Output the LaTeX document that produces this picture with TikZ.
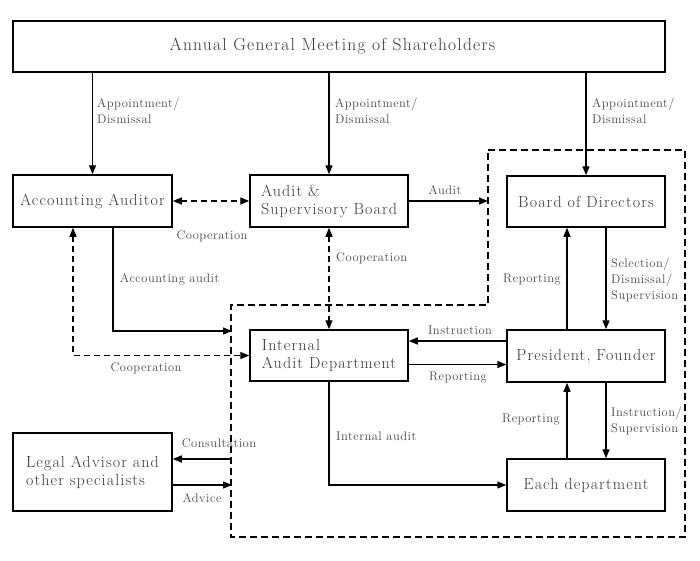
\documentclass[tikz,border=0pt]{standalone}
\usepackage{fontspec}
\usetikzlibrary{arrows.meta}
\definecolor{txtc}{RGB}{55,55,55}
\definecolor{lblc}{RGB}{70,70,70}
\newfontfamily\boxfamily{Latin Modern Roman}[LetterSpace=7]
\newfontfamily\lblfamily{Latin Modern Roman}[LetterSpace=4]
\newcommand\boxfnt{\boxfamily\fontsize{16}{18}\selectfont}
\newcommand\agmfnt{\boxfamily\fontsize{17.5}{20}\selectfont}
\newcommand\lblfnt{\lblfamily\fontsize{12.5}{16}\selectfont}
\tikzset{
  orgbox/.style={draw, line width=1.5pt, minimum width=158pt, minimum height=52pt, inner sep=0pt, font=\boxfnt, text=txtc, align=left},
  arr/.style={-{Triangle[length=9pt,width=7pt]}, line width=1.3pt},
  darr/.style={{Triangle[length=9pt,width=7pt]}-{Triangle[length=9pt,width=7pt]}, line width=1.3pt, dash pattern=on 6pt off 4pt},
  lbl/.style={font=\lblfnt, text=lblc, inner sep=0pt, align=left},
  region/.style={line width=1.2pt, dash pattern=on 7pt off 4pt}
}
\begin{document}
\begin{tikzpicture}[x=1pt,y=-1pt]
\useasboundingbox (0,0) rectangle (700,560);
% region
\draw[region] (488,150) -- (685,150) -- (685,537) -- (231,537) -- (231,305) -- (488,305) -- cycle;
% nodes
\node[orgbox, minimum width=652pt, minimum height=51pt, font=\agmfnt] (agm) at (339,46.5) {\hspace*{-13pt}Annual General Meeting of Shareholders};
\node[orgbox, minimum width=159pt] (aa) at (92.5,201) {Accounting Auditor};
\node[orgbox] (asb) at (329,201) {Audit \&\\Supervisory Board};
\node[orgbox, minimum height=51pt] (board) at (586,201.5) {Board of Directors};
\node[orgbox, minimum height=51pt] (iad) at (329,355.5) {Internal\\Audit Department};
\node[orgbox] (pres) at (586,356) {President, Founder};
\node[orgbox, minimum width=159pt, minimum height=78pt] (legal) at (92.5,472) {Legal Advisor and\\other specialists};
\node[orgbox] (each) at (586,485) {Each department};
% coordinates on region boundary
\coordinate (cAudit) at (488,201);
\coordinate (cAcc) at (232,331);
\coordinate (cCons) at (232,459);
\coordinate (cAdv) at (232,485);
% connectors
\draw[arr] (aa.north |- agm.south) -- (aa.north);
\draw[arr] (asb.north |- agm.south) -- (asb.north);
\draw[arr] (board.north |- agm.south) -- (board.north);
\draw[darr] (aa.east) -- (asb.west);
\draw[arr] (asb.east) -- (cAudit);
\draw[darr] (asb.south) -- (iad.north);
\draw[arr] ([xshift=20.5pt]aa.south) |- (cAcc);
\draw[darr] ([xshift=-19.5pt]aa.south) |- (iad.west);
\draw[arr] ([xshift=20pt]board.south) -- ([xshift=20pt]pres.north);
\draw[arr] ([xshift=-19pt]pres.north) -- ([xshift=-19pt]board.south);
\draw[arr] ([yshift=15pt]pres.west) -- ([yshift=15pt]pres.west -| iad.east);
\draw[arr] ([yshift=-9pt]iad.east) -- ([yshift=-9pt]iad.east -| pres.west);
\draw[arr] ([xshift=20pt]pres.south) -- ([xshift=20pt]each.north);
\draw[arr] ([xshift=-19pt]each.north) -- ([xshift=-19pt]pres.south);
\draw[arr] (iad.south) |- (each.west);
\draw[arr] (cCons) -- (cCons -| legal.east);
\draw[arr] (cAdv -| legal.east) -- (cAdv);
% labels
\node[lbl, anchor=west] (l1) at (97,111) {Appointment/\\Dismissal};
\node[lbl, anchor=west] (l2) at (335,111) {Appointment/\\Dismissal};
\node[lbl, anchor=west] (l3) at (592,111) {Appointment/\\Dismissal};
\node[lbl] (l4) at (445,190) {Audit};
\node[lbl] (l5) at (212,236) {Cooperation};
\node[lbl, anchor=west] (l6) at (336,258) {Cooperation};
\node[lbl, anchor=west] (l7) at (120,279) {Accounting audit};
\node[lbl] (l8) at (146,368) {Cooperation};
\node[lbl, anchor=east] (l9) at (561,280) {Reporting};
\node[lbl, anchor=west] (l10) at (611,280) {Selection/\\Dismissal/\\Supervision};
\node[lbl] (l11) at (460,330) {Instruction};
\node[lbl] (l12) at (458,378) {Reporting};
\node[lbl, anchor=east] (l13) at (560,420) {Reporting};
\node[lbl, anchor=west] (l14) at (611,421) {Instruction/\\Supervision};
\node[lbl, anchor=west] (l15) at (336,436) {Internal audit};
\node[lbl] (l16) at (219,443) {Consultation};
\node[lbl] (l17) at (202,498) {Advice};
\end{tikzpicture}
\end{document}
